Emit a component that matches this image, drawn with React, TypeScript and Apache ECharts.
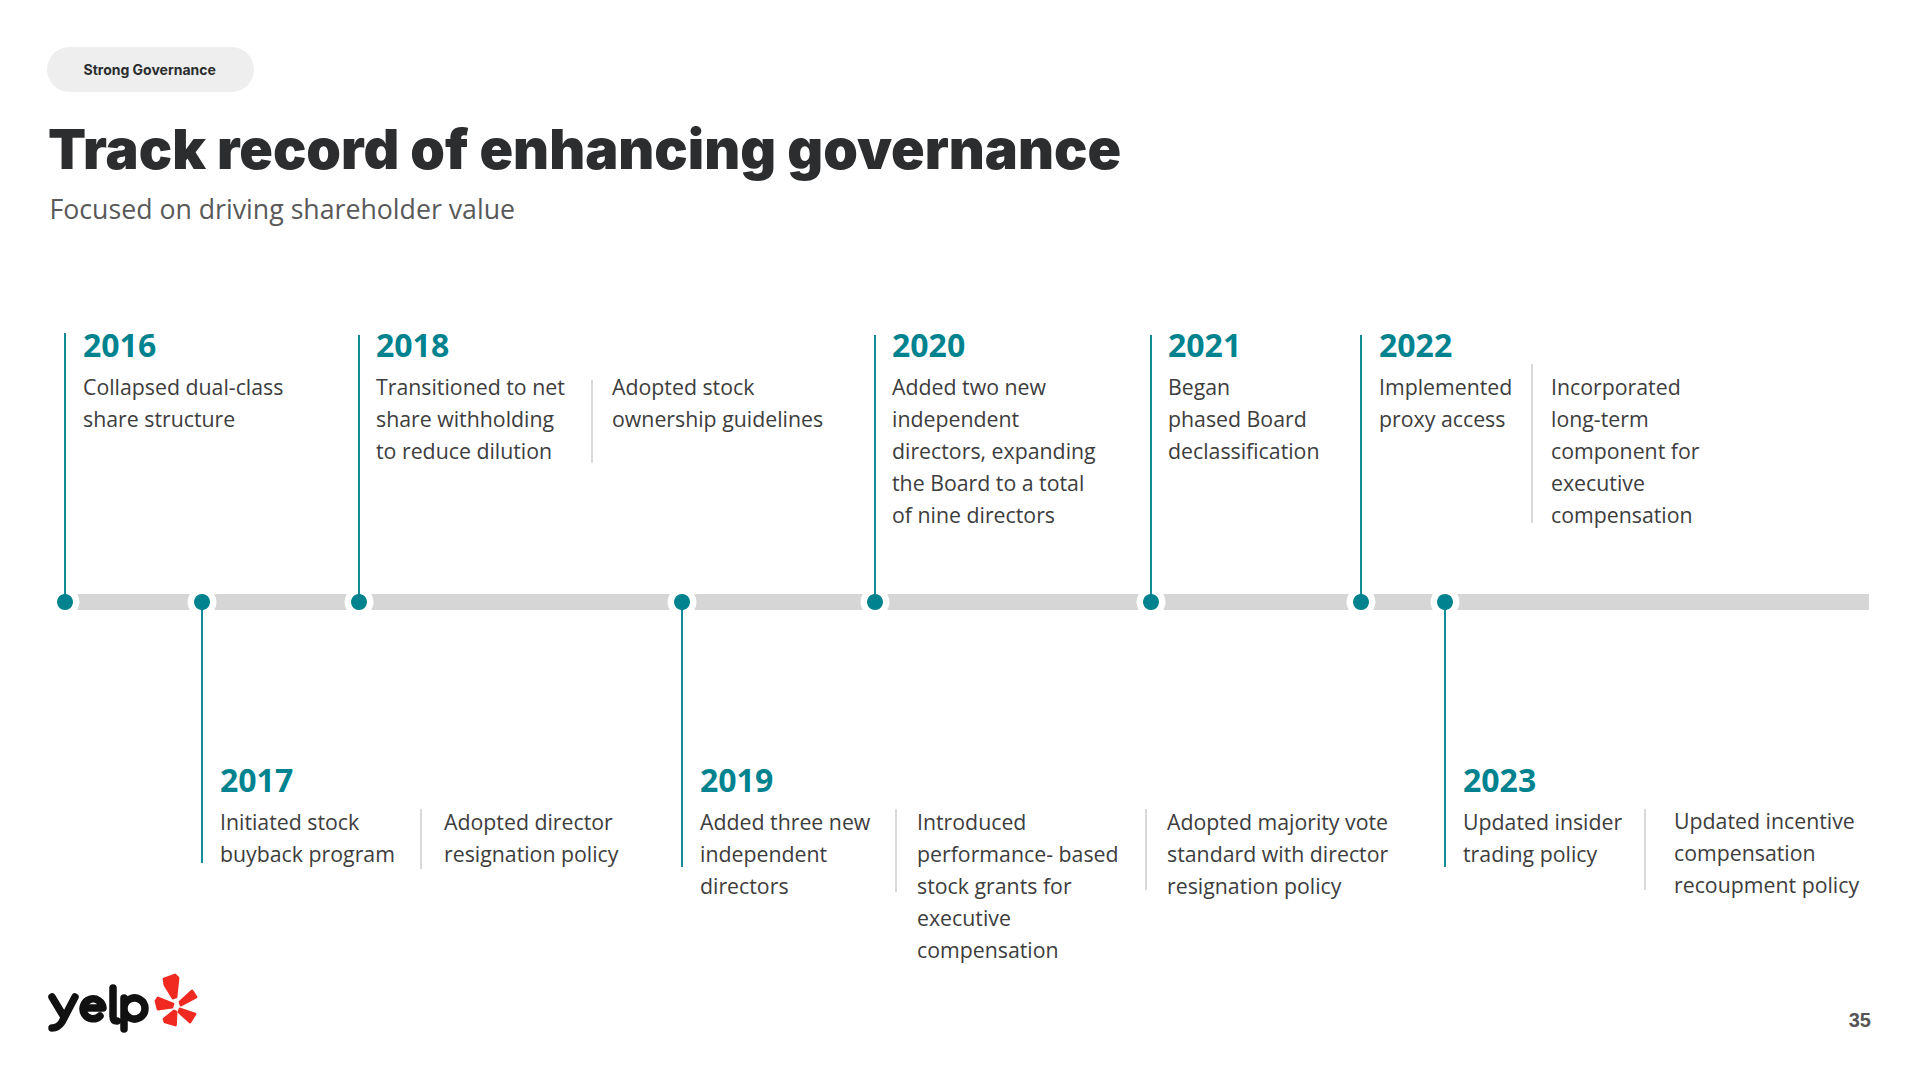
import React, { useEffect, useRef } from "react";
import * as echarts from "echarts";

// ---------- content ----------
const pillLabel = "Strong Governance";
const titleText = "Track record of enhancing governance";
const subtitleText = "Focused on driving shareholder value";
const pageNumber = "35";

const years = ["2016", "2017", "2018", "2019", "2020", "2021", "2022", "2023"];
// where each year sits along the timeline (px scale of the x axis)
const milestonePositions = [65, 202, 359, 682, 875, 1151, 1361, 1445];
// stem length from the timeline: positive goes up, negative goes down
const stemOffsets = [269, -261, 267, -265, 267, 267, 267, -265];
const yearLabelX = [83, 220, 376, 700, 892, 1168, 1379, 1463];

const timelineRange = [65, 1869];

const separatorPositions = [421, 592, 896, 1146, 1532, 1645];
const separatorFrom = [-207, 139, -207, -207, 79, -207];
const separatorTo = [-267, 222, -290, -288, 238, -288];

const descriptions: [number, number, string[]][] = [
  [83, 386, ["Collapsed dual-class", "share structure"]],
  [376, 386, ["Transitioned to net", "share withholding", "to reduce dilution"]],
  [612, 386, ["Adopted stock", "ownership guidelines"]],
  [892, 386, ["Added two new", "independent", "directors, expanding", "the Board to a total", "of nine directors"]],
  [1168, 386, ["Began", "phased Board", "declassification"]],
  [1379, 386, ["Implemented", "proxy access"]],
  [1551, 386, ["Incorporated", "long-term", "component for", "executive", "compensation"]],
  [220, 821, ["Initiated stock", "buyback program"]],
  [444, 821, ["Adopted director", "resignation policy"]],
  [700, 821, ["Added three new", "independent", "directors"]],
  [917, 821, ["Introduced", "performance- based", "stock grants for", "executive", "compensation"]],
  [1167, 821, ["Adopted majority vote", "standard with director", "resignation policy"]],
  [1463, 821, ["Updated insider", "trading policy"]],
  [1674, 820, ["Updated incentive", "compensation", "recoupment policy"]],
];

// ---------- logo shapes ----------
const wordPath =
  "M52 997 L64 1017 M75 997 L62 1022 Q58 1028 52 1028 " +
  "M84 1008 L103 1008 A10 10 0 1 0 100 1016 " +
  "M113 988 L113 1016 Q113 1021 117 1021 " +
  "M124 998 L124 1029 M124 1008 A10.5 10.5 0 1 1 124 1009";
const burstPath =
  "M164 979 L175 975 L178 978 L176 997 L173 998 L165 985 Z " +
  "M180 1002 L192 991 L196 997 L181 1005 Z " +
  "M156 1001 L158 998 L173 1004 L172 1007 L158 1009 Z " +
  "M180 1009 L195 1014 L190 1022 L179 1012 Z " +
  "M174 1011 L176 1012 L175.5 1025 L165 1022 L164 1019 Z";
echarts.graphic.registerShape("yelpWord", echarts.graphic.extendPath(wordPath, {}) as any);
echarts.graphic.registerShape("yelpBurst", echarts.graphic.extendPath(burstPath, {}) as any);

const TEAL = "#00838f";
const BODY = "'Open Sans', sans-serif";
const DISPLAY = "Inter, sans-serif";

const vline = (x: number, a: number, b: number, color: string, width: number, z: number) => ({
  type: "line",
  data: [[x, a], [x, b]],
  showSymbol: false,
  silent: true,
  z,
  lineStyle: { color, width, cap: "butt" },
});

export default function App() {
  const ref = useRef<HTMLDivElement>(null);
  useEffect(() => {
    const chart = echarts.init(ref.current!, undefined, { renderer: "svg" });
    const points = milestonePositions.map((x) => [x, 0]);
    const texts: any[] = [];
    const addText = (x: number, y: number, text: string, font: string, size: number, weight: any, fill: string, extra: any = {}) =>
      texts.push({
        type: "text",
        x,
        y,
        silent: true,
        ...extra,
        style: { text, fontFamily: font, fontSize: size, fontWeight: weight, fill, verticalAlign: "middle", align: "left", ...(extra.style || {}) },
      });

    addText(83.5, 69.5, pillLabel, DISPLAY, 14, 700, "#2b2d2f");
    addText(48, 148.5, titleText, DISPLAY, 55.5, 900, "#2b2d2f");
    addText(49.5, 208, subtitleText, BODY, 26.7, 400, "#595959");
    years.forEach((y, i) => addText(yearLabelX[i], stemOffsets[i] > 0 ? 344.5 : 779, y, BODY, 32, 700, TEAL));
    descriptions.forEach(([x, y, lines]) =>
      lines.forEach((l, j) => addText(x, y + j * 32, l, BODY, 21.3, 400, "#3d3d3d"))
    );
    addText(1871, 1020, pageNumber, "'Liberation Sans', sans-serif", 20, 700, "#555555", { style: { align: "right" } });

    chart.setOption({
      animation: false,
      backgroundColor: "#ffffff",
      grid: { left: 0, right: 0, top: 0, bottom: 0 },
      xAxis: { type: "value", min: 0, max: 1920, show: false },
      yAxis: { type: "value", min: -478, max: 602, show: false },
      series: [
        {
          type: "line",
          data: timelineRange.map((x) => [x, 0]),
          showSymbol: false,
          silent: true,
          z: 1,
          lineStyle: { color: "#d6d6d6", width: 16, cap: "butt" },
        },
        { type: "scatter", data: points, symbolSize: 29, z: 2, silent: true, itemStyle: { color: "#ffffff", opacity: 1 } },
        ...separatorPositions.map((x, i) => vline(x, separatorFrom[i], separatorTo[i], "#d9d9d9", 2, 2)),
        ...milestonePositions.map((x, i) => vline(x, 0, stemOffsets[i], "#128c96", 2, 3)),
        { type: "scatter", data: points, symbolSize: 16, z: 4, silent: true, itemStyle: { color: TEAL, opacity: 1 } },
      ],
      graphic: [
        { type: "rect", silent: true, shape: { x: 47, y: 47, width: 207, height: 45, r: 22.5 }, style: { fill: "#eeeeee" } },
        ...texts,
        { type: "yelpWord", silent: true, x: 0, y: 0, scaleX: 1, scaleY: 1, style: { fill: "none", stroke: "#111111", lineWidth: 7.5, lineCap: "round", lineJoin: "round" } },
        { type: "yelpBurst", silent: true, x: 0, y: 0, scaleX: 1, scaleY: 1, style: { fill: "#f02a20", stroke: "#f02a20", lineWidth: 2.8, lineJoin: "round" } },
      ],
    });
    return () => chart.dispose();
  }, []);
  return <div ref={ref} style={{ position: "absolute", left: 0, top: 0, width: 1920, height: 1080 }} />;
}
